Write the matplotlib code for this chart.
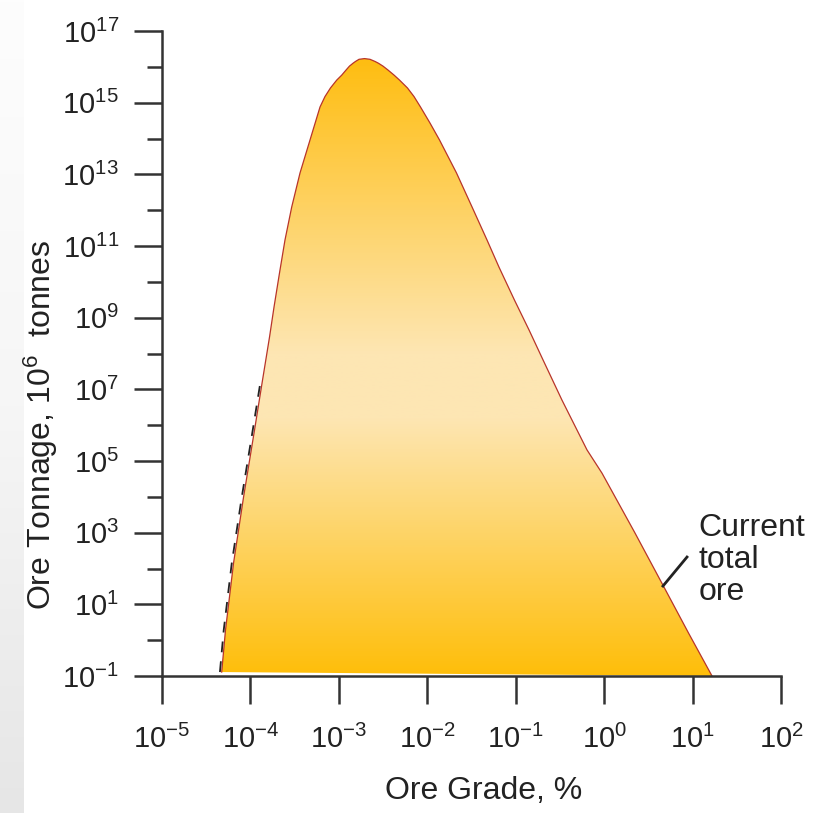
import numpy as np
import matplotlib
matplotlib.use("Agg")
import matplotlib.pyplot as plt
from matplotlib.colors import LinearSegmentedColormap
from matplotlib.ticker import FixedLocator, NullLocator, NullFormatter

plt.rcParams['font.family'] = ['Liberation Sans', 'DejaVu Sans']

# exponents (log10)
# left edge, bottom -> peak
left_grade_exp = [-4.325, -4.282, -4.191, -4.078, -3.954, -3.863, -3.784, -3.733, -3.671,
                  -3.609, -3.533, -3.439, -3.326, -3.213, -3.157, -3.095, -3.024, -2.967,
                  -2.919, -2.880, -2.840, -2.812, -2.772, -2.710]
left_tonnage_exp = [-0.89, 0.28, 2.15, 3.99, 5.86, 7.26, 8.46, 9.30, 10.25,
                    11.17, 12.09, 13.04, 13.96, 14.88, 15.17, 15.41, 15.63, 15.77,
                    15.91, 16.02, 16.10, 16.15, 16.21, 16.23]
# right edge, peak -> bottom
right_grade_exp = [-2.648, -2.591, -2.552, -2.501, -2.444, -2.376, -2.314, -2.224, -2.150,
                   -2.077, -1.969, -1.862, -1.670, -1.494, -1.325, -1.189, -1.014, -0.850,
                   -0.691, -0.477, -0.194, -0.024, 0.349, 0.677, 0.954, 1.220]
right_tonnage_exp = [16.21, 16.15, 16.10, 16.02, 15.91, 15.77, 15.63, 15.41, 15.17,
                     14.88, 14.43, 13.96, 13.04, 12.09, 11.17, 10.41, 9.49, 8.66,
                     7.82, 6.70, 5.31, 4.66, 2.99, 1.48, 0.20, -1.00]

x_tick_exp = list(range(-5, 3))
y_major_exp = list(range(-1, 18, 2))
y_minor_exp = list(range(0, 17, 2))

# pointer line for the annotation
pointer_grade_exp = [0.665, 0.937]
pointer_tonnage_exp = [1.51, 2.32]

grade = 10.0 ** np.array(left_grade_exp + right_grade_exp)
tonnage = 10.0 ** np.array(left_tonnage_exp + right_tonnage_exp)

fig = plt.figure(figsize=(8.21, 8.13), dpi=100)

# grey slide edge on the left
strip = fig.add_axes([0, 0, 23 / 821, 1])
strip_cmap = LinearSegmentedColormap.from_list('strip', ['#fdfdfd', '#f6f6f6', '#e6e6e6'])
strip.imshow(np.linspace(0, 1, 256).reshape(-1, 1), aspect='auto', cmap=strip_cmap,
             extent=[0, 1, 0, 1], origin='upper')
strip.set_axis_off()

ax = fig.add_axes([162 / 821, 1 - 676 / 813, 619 / 821, 645 / 813])
ax.set_xscale('log')
ax.set_yscale('log')
ax.set_xlim(1e-5, 1e2)
ax.set_ylim(1e-1, 1e17)

# gradient fill clipped to the curve
poly = ax.fill(grade, tonnage, facecolor='none', edgecolor='none')[0]
grad_cmap = LinearSegmentedColormap.from_list(
    'ore', [(0.0, '#ffbe0a'), (0.40, '#fde6b3'), (0.50, '#fde6b3'),
            (0.96, '#ffbd10'), (1.0, '#ffbd10')])
img = ax.imshow(np.linspace(0, 1, 512).reshape(-1, 1), aspect='auto', cmap=grad_cmap,
                extent=[0, 1, 0, 1], origin='lower', transform=ax.transAxes, zorder=1)
img.set_clip_path(poly)

# outline
ax.plot(grade, tonnage, color='#b8342a', lw=0.9, zorder=2, solid_joinstyle='round')
# dashed line along lower left edge
ax.plot(10.0 ** (np.array(left_grade_exp[:6]) - 0.02), 10.0 ** np.array(left_tonnage_exp[:6]),
        color='#222222', lw=1.3, ls=(0, (6, 5)), zorder=2)

ax.plot(10.0 ** np.array(pointer_grade_exp), 10.0 ** np.array(pointer_tonnage_exp),
        color='#222222', lw=2, zorder=3)
ax.text(10.0 ** 1.07, 10.0 ** 3.55, 'Current\ntotal\nore', fontsize=23, ha='left', va='top',
        linespacing=1.08, color='#222222')

ax.set_xlim(1e-5, 1e2)
ax.set_ylim(1e-1, 1e17)

ax.xaxis.set_major_locator(FixedLocator([10.0 ** k for k in x_tick_exp]))
ax.xaxis.set_minor_locator(NullLocator())
ax.set_xticklabels([r'$\mathregular{10^{%d}}$' % k for k in x_tick_exp])
ax.yaxis.set_major_locator(FixedLocator([10.0 ** k for k in y_major_exp]))
ax.yaxis.set_minor_locator(FixedLocator([10.0 ** k for k in y_minor_exp]))
ax.yaxis.set_minor_formatter(NullFormatter())
ax.set_yticklabels([r'$\mathregular{10^{%d}}$' % k for k in y_major_exp])

for s in ['top', 'right']:
    ax.spines[s].set_visible(False)
for s in ['left', 'bottom']:
    ax.spines[s].set_color('#333333')
    ax.spines[s].set_linewidth(1.8)

ax.tick_params(axis='both', which='major', length=20, width=1.8, color='#333333',
               labelsize=21, labelcolor='#222222')
ax.tick_params(axis='y', which='minor', length=11, width=1.8, color='#333333')
ax.tick_params(axis='x', which='major', pad=15)
ax.tick_params(axis='y', which='major', pad=11)

ax.set_xlabel('Ore Grade, %', fontsize=23, color='#222222')
ax.xaxis.set_label_coords(0.519, -0.155)
ax.set_ylabel(r'Ore Tonnage, $\mathregular{10^6}$  tonnes', fontsize=23, color='#222222')
ax.yaxis.set_label_coords(-0.165, 0.39)

fig.savefig('out.png', dpi=100)
